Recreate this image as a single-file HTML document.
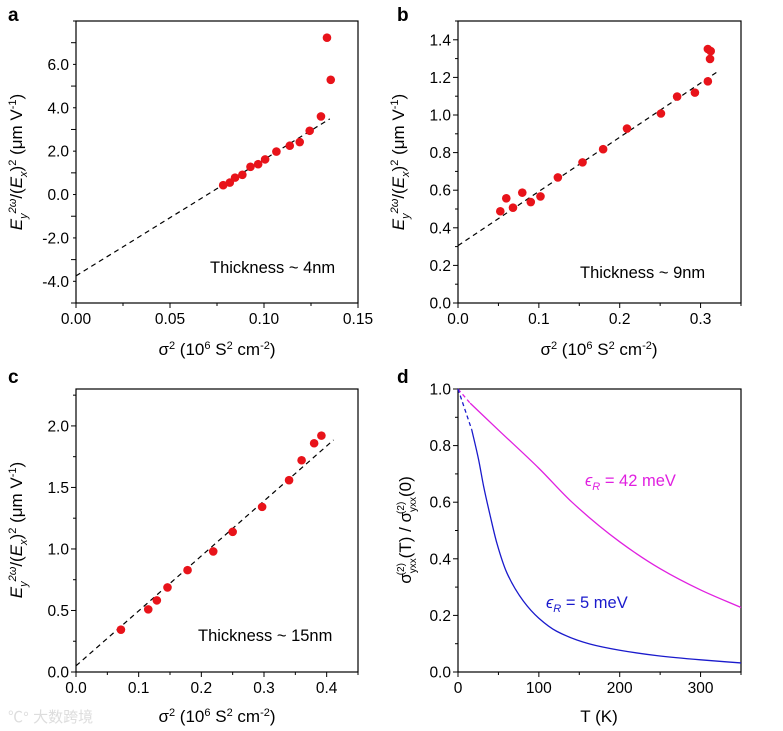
<!DOCTYPE html>
<html><head><meta charset="utf-8"><style>
body{margin:0;background:#fff;}
svg{display:block;font-family:"Liberation Sans",Arial,sans-serif;}
</style></head><body>
<svg id="fig" width="783" height="731" viewBox="0 0 783 731" xmlns="http://www.w3.org/2000/svg"></svg>
<script>
// Panel a data
const aX=[0.0783,0.0818,0.0846,0.0885,0.0928,0.0969,0.1006,0.1066,0.1137,0.119,0.1243,0.1303,0.1335,0.1355];
const aY=[0.43,0.55,0.78,0.91,1.28,1.40,1.62,1.98,2.25,2.42,2.94,3.6,7.23,5.29];
const aFit=[0,-3.75,0.135,3.49];
const aXTicks=["0.00","0.05","0.10","0.15"];
const aYTicks=["-4.0","-2.0","0.0","2.0","4.0","6.0"];
// Panel b data
const bX=[0.0523,0.0597,0.068,0.0795,0.090,0.102,0.1235,0.154,0.1795,0.209,0.251,0.271,0.293,0.309,0.309,0.3125,0.3117];
const bY=[0.488,0.557,0.507,0.587,0.537,0.567,0.668,0.748,0.818,0.928,1.008,1.098,1.119,1.179,1.351,1.34,1.298];
const bFit=[0,0.305,0.3216,1.232];
const bXTicks=["0.0","0.1","0.2","0.3"];
const bYTicks=["0.0","0.2","0.4","0.6","0.8","1.0","1.2","1.4"];
// Panel c data
const cX=[0.0717,0.1153,0.129,0.146,0.178,0.219,0.25,0.297,0.340,0.36,0.38,0.3916];
const cY=[0.344,0.509,0.582,0.687,0.828,0.98,1.139,1.342,1.559,1.721,1.859,1.921];
const cFit=[0,0.05,0.411,1.886];
const cXTicks=["0.0","0.1","0.2","0.3","0.4"];
const cYTicks=["0.0","0.5","1.0","1.5","2.0"];
// Panel d data
const dMagT=[15,50,100,141,200,250,300,350];
const dMagV=[0.95,0.855,0.72,0.60,0.46,0.365,0.29,0.228];
const dBluT=[17,25.5,31.7,40,48,60.5,81,100,122,163,200,246,300,350];
const dBluV=[0.856,0.75,0.656,0.55,0.456,0.35,0.25,0.19,0.144,0.099,0.077,0.058,0.043,0.032];
const dXTicks=["0","100","200","300"];
const dYTicks=["0.0","0.2","0.4","0.6","0.8","1.0"];

const NS="http://www.w3.org/2000/svg";
const fig=document.getElementById('fig');
function mk(tag,attrs,parent,name,text){
  const e=document.createElementNS(NS,tag);
  for(const k in attrs)e.setAttribute(k,attrs[k]);
  
  
  if(text!==undefined)e.textContent=text;
  (parent||fig).appendChild(e);return e;
}
function scale(d0,d1,r0,r1){return v=>r0+(v-d0)*(r1-r0)/(d1-d0);}
const FS=15.5;
function axes(g,L,T,R,B,xs,ys,xmin,xmax,xstep,xminor,ymin,ymax,ystep,yminor,xl){
  mk('rect',{x:L,y:T,width:R-L,height:B-T,fill:'none',stroke:'#000','stroke-width':1.2},g,'plot-frame');
  for(let v=xmin;v<=xmax+1e-9;v+=xstep/xminor){
    const i=Math.round((v-xmin)/(xstep/xminor));const maj=i%xminor===0;
    const x=xs(v);mk('line',{x1:x,x2:x,y1:B,y2:B+(maj?5:3),stroke:'#000','stroke-width':1},g,'x-tick');
  }
  xl.forEach((t,i)=>{mk('text',{x:xs(xmin+i*xstep),y:B+21,'text-anchor':'middle','font-size':FS},g,'x-tick-label',t);});
  for(let v=ymin;v<=ymax+1e-9;v+=ystep/yminor){
    const i=Math.round((v-ymin)/(ystep/yminor));const maj=i%yminor===0;
    const y=ys(v);mk('line',{x1:L,x2:L-(maj?5:3),y1:y,y2:y,stroke:'#000','stroke-width':1},g,'y-tick');
  }
}
function ylabels(g,L,ys,vals,labels){labels.forEach((t,i)=>mk('text',{x:L-7,y:ys(vals[i])+5.5,'text-anchor':'end','font-size':FS},g,'y-tick-label',t));}
function scatter(g,xs,ys,X,Y){X.forEach((v,i)=>mk('circle',{cx:xs(v),cy:ys(Y[i]),r:4.3,fill:'#e8131a'},g,'data-point'));}
function fit(g,xs,ys,f){mk('line',{x1:xs(f[0]),y1:ys(f[1]),x2:xs(f[2]),y2:ys(f[3]),stroke:'#000','stroke-width':1.2,'stroke-dasharray':'5,4'},g,'fit-line');}
function ytitleE(g,cx,cy){
  const t=mk('text',{transform:`translate(${cx},${cy}) rotate(-90)`,'text-anchor':'middle','font-size':17},g,'y-axis-title');
  t.innerHTML='<tspan font-style="italic">E</tspan><tspan font-style="italic" font-size="11" dy="5">y</tspan><tspan font-style="italic" font-size="11" dy="-11">2ω</tspan><tspan dy="6">/(</tspan><tspan font-style="italic">E</tspan><tspan font-style="italic" font-size="11" dy="5">x</tspan><tspan dy="-5">)</tspan><tspan font-size="11" dy="-6">2</tspan><tspan dy="6"> (μm V</tspan><tspan font-size="11" dy="-6">-1</tspan><tspan dy="6">)</tspan>';
}
function xtitleS(g,cx,y){
  const t=mk('text',{x:cx,y:y,'text-anchor':'middle','font-size':17},g,'x-axis-title');
  t.innerHTML='σ<tspan font-size="11" dy="-6">2</tspan><tspan dy="6"> (10</tspan><tspan font-size="11" dy="-6">6</tspan><tspan dy="6"> S</tspan><tspan font-size="11" dy="-6">2</tspan><tspan dy="6"> cm</tspan><tspan font-size="11" dy="-6">-2</tspan><tspan dy="6">)</tspan>';
}
function letter(x,y,s){mk('text',{x:x,y:y,'font-size':19,'font-weight':'bold'},fig,'panel-label',s);}

// Panel a
{const g=mk('g',{},fig,'panel-a');const L=76,T=21,R=358,B=303;
 const xs=scale(0,0.15,L,R),ys=scale(-5,8,B,T);
 axes(g,L,T,R,B,xs,ys,0,0.15,0.05,2,-5,8,2,2,aXTicks);
 ylabels(g,L,ys,[-4,-2,0,2,4,6],aYTicks);
 fit(g,xs,ys,aFit);scatter(g,xs,ys,aX,aY);
 mk('text',{x:210,y:273,'font-size':16.5},g,'thickness-label','Thickness ~ 4nm');
 ytitleE(g,22,162);xtitleS(g,217,355);letter(8,21,'a');}
// Panel b
{const g=mk('g',{},fig,'panel-b');const L=458,T=21,R=741,B=303;
 const xs=scale(0,0.35,L,R),ys=scale(0,1.5,B,T);
 axes(g,L,T,R,B,xs,ys,0,0.35,0.1,2,0,1.5,0.2,2,bXTicks);
 ylabels(g,L,ys,[0,0.2,0.4,0.6,0.8,1.0,1.2,1.4],bYTicks);
 fit(g,xs,ys,bFit);scatter(g,xs,ys,bX,bY);
 mk('text',{x:580,y:278,'font-size':16.5},g,'thickness-label','Thickness ~ 9nm');
 ytitleE(g,404,162);xtitleS(g,599,355);letter(397,21,'b');}
// Panel c
{const g=mk('g',{},fig,'panel-c');const L=76,T=389,R=358,B=672;
 const xs=scale(0,0.45,L,R),ys=scale(0,2.3,B,T);
 axes(g,L,T,R,B,xs,ys,0,0.45,0.1,2,0,2.3,0.5,2,cXTicks);
 ylabels(g,L,ys,[0,0.5,1.0,1.5,2.0],cYTicks);
 fit(g,xs,ys,cFit);scatter(g,xs,ys,cX,cY);
 mk('text',{x:198,y:641,'font-size':16.5},g,'thickness-label','Thickness ~ 15nm');
 ytitleE(g,22,530);xtitleS(g,217,722);letter(8,383,'c');
 mk('text',{x:8,y:722,'font-size':15,fill:'#ddd','font-family':'"Liberation Sans","Noto Sans CJK SC",sans-serif'},g,'watermark','℃° 大数跨境');}
// Panel d — monotone cubic interpolation in x for smooth rendering
function monoPath(P){
 const n=P.length,dx=[],m=[],t=[];
 for(let i=0;i<n-1;i++){dx.push(P[i+1][0]-P[i][0]);m.push((P[i+1][1]-P[i][1])/dx[i]);}
 t[0]=m[0];t[n-1]=m[n-2];
 for(let i=1;i<n-1;i++){if(m[i-1]*m[i]<=0)t[i]=0;else{const w1=2*dx[i]+dx[i-1],w2=dx[i]+2*dx[i-1];t[i]=(w1+w2)/(w1/m[i-1]+w2/m[i]);}}
 let d=`M${P[0][0]},${P[0][1]}`;
 for(let i=0;i<n-1;i++){const h=dx[i]/3;
  d+=` C${P[i][0]+h},${P[i][1]+t[i]*h} ${P[i+1][0]-h},${P[i+1][1]-t[i+1]*h} ${P[i+1][0]},${P[i+1][1]}`;}
 return d;}
{const g=mk('g',{},fig,'panel-d');const L=458,T=389,R=741,B=672;
 const xs=scale(0,350,L,R),ys=scale(0,1,B,T);
 axes(g,L,T,R,B,xs,ys,0,350,100,2,0,1,0.2,2,dXTicks);
 ylabels(g,L,ys,[0,0.2,0.4,0.6,0.8,1.0],dYTicks);
 mk('line',{x1:xs(0),y1:ys(1),x2:xs(dMagT[0]),y2:ys(dMagV[0]),stroke:'#e020e0','stroke-width':1.3,'stroke-dasharray':'4,3'},g,'magenta-extrapolation');
 mk('path',{d:monoPath(dMagT.map((t,i)=>[xs(t),ys(dMagV[i])])),fill:'none',stroke:'#e020e0','stroke-width':1.3},g,'magenta-curve');
 mk('line',{x1:xs(0),y1:ys(1),x2:xs(dBluT[0]),y2:ys(dBluV[0]),stroke:'#1a1acc','stroke-width':1.3,'stroke-dasharray':'4,3'},g,'blue-extrapolation');
 mk('path',{d:monoPath(dBluT.map((t,i)=>[xs(t),ys(dBluV[i])])),fill:'none',stroke:'#1a1acc','stroke-width':1.3},g,'blue-curve');
 const l1=mk('text',{x:585,y:486,'font-size':16.5,fill:'#e020e0'},g,'legend-42mev');
 l1.innerHTML='<tspan font-style="italic">ϵ</tspan><tspan font-style="italic" font-size="11" dy="4">R</tspan><tspan dy="-4"> = 42 meV</tspan>';
 const l2=mk('text',{x:546,y:608,'font-size':16.5,fill:'#1a1acc'},g,'legend-5mev');
 l2.innerHTML='<tspan font-style="italic">ϵ</tspan><tspan font-style="italic" font-size="11" dy="4">R</tspan><tspan dy="-4"> = 5 meV</tspan>';
 const yt=mk('text',{transform:'translate(411,530) rotate(-90)','text-anchor':'middle','font-size':17},g,'y-axis-title');
 yt.innerHTML='σ<tspan font-size="10" dy="5">yxx</tspan><tspan font-size="10" dx="-17" dy="-12">(2)</tspan><tspan dy="7"> (T) / σ</tspan><tspan font-size="10" dy="5">yxx</tspan><tspan font-size="10" dx="-17" dy="-12">(2)</tspan><tspan dy="7"> (0)</tspan>';
 mk('text',{x:599,y:722,'text-anchor':'middle','font-size':17},g,'x-axis-title','T (K)');
 letter(397,383,'d');}
</script>
</body></html>
